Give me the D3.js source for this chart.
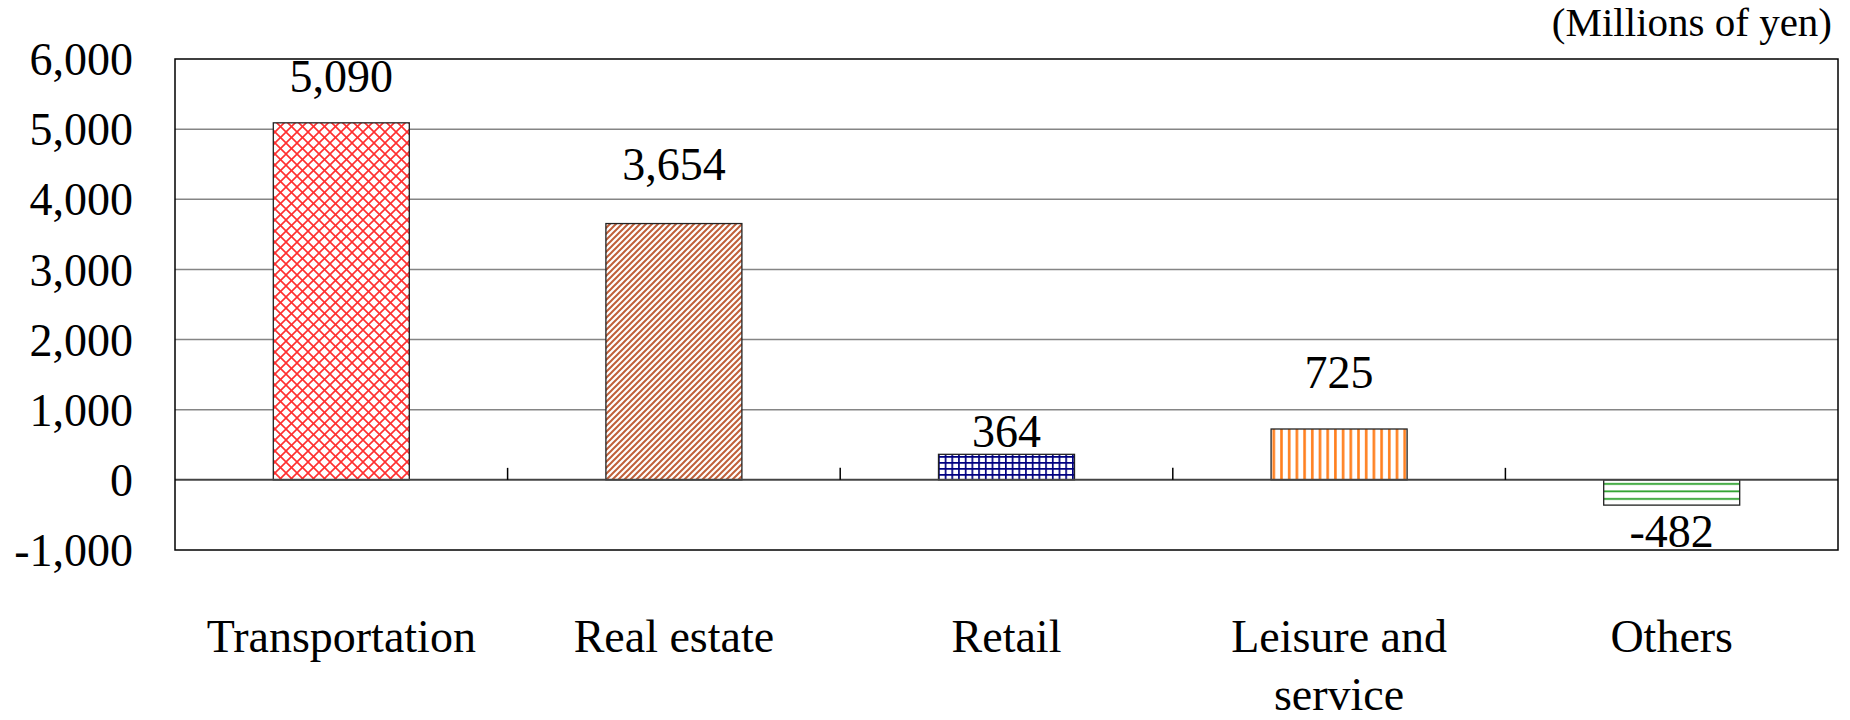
<!DOCTYPE html>
<html>
<head>
<meta charset="utf-8">
<script src="https://cdn.jsdelivr.net/npm/d3@7"></script>
<style>
  html, body { margin: 0; padding: 0; background: #fff; }
  svg { display: block; }
  svg text { font-family: "Liberation Serif", Tinos, "Times New Roman", Times, serif !important; }
</style>
</head>
<body>
<svg id="chart" width="1850" height="720"></svg>
<script>
// ---- data ----
const categories = ["Transportation", "Real estate", "Retail", "Leisure and service", "Others"];
const values = [5090, 3654, 364, 725, -360];          // bar heights as drawn
const valueLabels = ["5,090", "3,654", "364", "725", "-482"]; // printed labels
const yTicks = [-1000, 0, 1000, 2000, 3000, 4000, 5000, 6000];
const yTickLabels = ["-1,000", "0", "1,000", "2,000", "3,000", "4,000", "5,000", "6,000"];
const unitLabel = "(Millions of yen)";

// ---- layout ----
const FONT = "'Liberation Serif', Tinos, 'Times New Roman', Times, serif";
const svg = d3.select("#chart").style("font-family", FONT);
const plot = { left: 175, right: 1838, top: 59, bottom: 550 };

const x = d3.scaleBand().domain(categories).range([plot.left, plot.right]).paddingInner(0).paddingOuter(0);
const y = d3.scaleLinear().domain([-1000, 6000]).range([plot.bottom, plot.top]);

// ---- patterns ----
const defs = svg.append("defs");
const p0 = defs.append("pattern").attr("id", "pat0").attr("patternUnits", "userSpaceOnUse")
  .attr("width", 11).attr("height", 11);
p0.append("rect").attr("width", 11).attr("height", 11).attr("fill", "#fff");
p0.append("path").attr("d", "M-1,-1 L12,12 M-1,10 L1,12 M10,-1 L12,1").attr("stroke", "#ff3030").attr("stroke-width", 1.6).attr("fill", "none");
p0.append("path").attr("d", "M-1,12 L12,-1 M-1,1 L1,-1 M10,12 L12,10").attr("stroke", "#ff3030").attr("stroke-width", 1.6).attr("fill", "none");
const p1 = defs.append("pattern").attr("id", "pat1").attr("patternUnits", "userSpaceOnUse")
  .attr("width", 6).attr("height", 6);
p1.append("rect").attr("width", 6).attr("height", 6).attr("fill", "#fff");
p1.append("path").attr("d", "M-1,7 L7,-1 M-4,4 L4,-4 M2,10 L10,2").attr("stroke", "#c0603a").attr("stroke-width", 2).attr("fill", "none");
const p2 = defs.append("pattern").attr("id", "pat2").attr("patternUnits", "userSpaceOnUse")
  .attr("width", 6.7).attr("height", 6);
p2.append("rect").attr("width", 6.7).attr("height", 6).attr("fill", "#fff");
p2.append("path").attr("d", "M0.8,0 V6 M0,0.8 H6.7").attr("stroke", "#000080").attr("stroke-width", 1.8).attr("fill", "none");
const p3 = defs.append("pattern").attr("id", "pat3").attr("patternUnits", "userSpaceOnUse")
  .attr("width", 7.7).attr("height", 10);
p3.append("rect").attr("width", 7.7).attr("height", 10).attr("fill", "#fff");
p3.append("rect").attr("x", 2).attr("width", 2.6).attr("height", 10).attr("fill", "#ff7f1e");
const p4 = defs.append("pattern").attr("id", "pat4").attr("patternUnits", "userSpaceOnUse")
  .attr("width", 10).attr("height", 7.5);
p4.append("rect").attr("width", 10).attr("height", 7.5).attr("fill", "#fff");
p4.append("rect").attr("y", 3).attr("width", 10).attr("height", 1.8).attr("fill", "#2aa02a");

// ---- gridlines ----
svg.append("g").selectAll("line").data(yTicks.filter(d => d !== 0 && d !== -1000 && d !== 6000))
  .join("line")
  .attr("x1", plot.left).attr("x2", plot.right)
  .attr("y1", d => y(d)).attr("y2", d => y(d))
  .attr("stroke", "#858585").attr("stroke-width", 1.5);

// ---- y axis labels ----
const yAxis = d3.axisLeft(y).tickValues(yTicks)
  .tickFormat((d, i) => yTickLabels[i]).tickSize(0).tickPadding(42);
const gy = svg.append("g").attr("transform", `translate(${plot.left},0)`).call(yAxis);
gy.attr("font-family", null).attr("font-size", null);
gy.select(".domain").remove();
gy.selectAll("text").style("font-family", FONT).style("font-size", "46px").attr("fill", "#000").attr("dy", "0.34em");

// ---- bars ----
const bw = 136;
svg.append("g").selectAll("rect").data(categories).join("rect")
  .attr("x", d => x(d) + x.bandwidth() / 2 - bw / 2)
  .attr("width", bw)
  .attr("y", (d, i) => y(Math.max(0, values[i])))
  .attr("height", (d, i) => Math.abs(y(values[i]) - y(0)))
  .attr("fill", (d, i) => `url(#pat${i})`)
  .attr("stroke", "#222").attr("stroke-width", 1.3);

// ---- zero axis ----
svg.append("line").attr("x1", plot.left).attr("x2", plot.right)
  .attr("y1", y(0)).attr("y2", y(0)).attr("stroke", "#444").attr("stroke-width", 2);
svg.append("g").selectAll("line").data(categories.slice(1)).join("line")
  .attr("x1", d => x(d)).attr("x2", d => x(d))
  .attr("y1", y(0) - 12).attr("y2", y(0))
  .attr("stroke", "#000").attr("stroke-width", 1.5);

// ---- plot border ----
svg.append("rect").attr("x", plot.left).attr("y", plot.top)
  .attr("width", plot.right - plot.left).attr("height", plot.bottom - plot.top)
  .attr("fill", "none").attr("stroke", "#000").attr("stroke-width", 1.5);

// ---- value labels ----
const labelGap = [31, 44, 7, 41, -42];
svg.append("g").selectAll("text").data(categories).join("text")
  .attr("x", d => x(d) + x.bandwidth() / 2)
  .attr("y", (d, i) => y(Math.max(0, values[i])) - labelGap[i] + (values[i] < 0 ? Math.abs(y(values[i]) - y(0)) : 0))
  .attr("text-anchor", "middle").style("font-family", FONT).style("font-size", "46px").attr("fill", "#000")
  .text((d, i) => valueLabels[i]);

// ---- category labels ----
const catG = svg.append("g");
categories.forEach(c => {
  const lines = c === "Leisure and service" ? ["Leisure and", "service"] : [c];
  const t = catG.append("text").attr("x", x(c) + x.bandwidth() / 2).attr("y", 652)
    .attr("text-anchor", "middle").style("font-family", FONT).style("font-size", "46px").attr("fill", "#000");
  lines.forEach((l, k) => {
    t.append("tspan").attr("x", x(c) + x.bandwidth() / 2).attr("dy", k === 0 ? 0 : 58).text(l);
  });
});

// ---- unit label ----
svg.append("text").attr("x", 1832).attr("y", 36).attr("text-anchor", "end")
  .style("font-family", FONT).style("font-size", "41px").attr("fill", "#000").text(unitLabel);
</script>
</body>
</html>
